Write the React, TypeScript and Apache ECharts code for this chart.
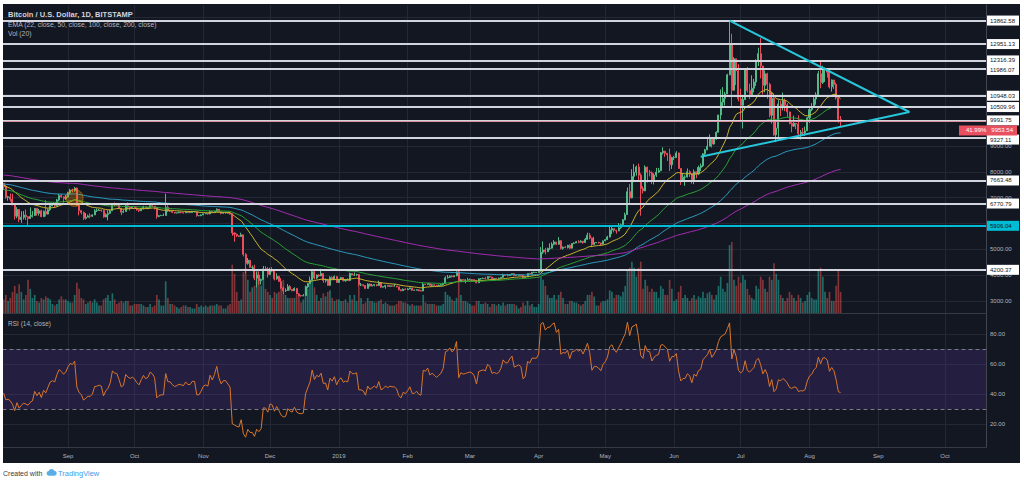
import React, { useEffect, useRef } from 'react';
import * as echarts from 'echarts';

// Each row: [high, low, close, volume (thousand BTC)]; the open of a day is the previous close.
type Row = [number, number, number, number];

const START_DATE = '2018-08-03';
const AXIS_DAYS = 443;
const FIRST_OPEN = 7560;

const AUG_2018: Row[] = [
  [7560, 7300, 7420, 9], [7490, 6950, 7010, 12], [7070, 6880, 7030, 8], [7160, 6840, 6940, 10], [7150, 6700, 6720, 14],
  [6720, 6150, 6280, 18], [6630, 6200, 6540, 13], [6560, 6050, 6150, 19], [6470, 6020, 6240, 14], [6480, 6150, 6320, 9],
  [6540, 6130, 6260, 12], [6250, 5880, 6190, 22], [6620, 6170, 6270, 16], [6480, 6230, 6310, 10], [6600, 6290, 6580, 12],
  [6600, 6300, 6390, 8], [6560, 6300, 6490, 7], [6530, 6250, 6260, 10], [6500, 6260, 6470, 9], [6900, 6270, 6360, 11],
  [6580, 6350, 6530, 10], [6720, 6480, 6690, 9], [6790, 6660, 6730, 6], [6760, 6610, 6690, 5], [6950, 6660, 6910, 6],
  [7140, 6870, 7080, 9], [7140, 6990, 7030, 11], [7050, 6800, 6960, 9], [7100, 6900, 7020, 9],
];
const SEP_2018: Row[] = [
  [7230, 7000, 7180, 8], [7340, 7120, 7290, 7], [7340, 7200, 7270, 7], [7410, 7230, 7370, 12], [7390, 6690, 6700, 20],
  [6720, 6310, 6500, 16], [6500, 6350, 6420, 10], [6460, 6130, 6200, 9], [6400, 6150, 6240, 6], [6340, 6240, 6290, 7],
  [6390, 6200, 6280, 8], [6350, 6250, 6330, 7], [6550, 6320, 6490, 9], [6580, 6440, 6500, 7], [6560, 6490, 6520, 5],
  [6530, 6450, 6500, 5], [6540, 6220, 6250, 9], [6390, 6240, 6340, 10], [6510, 6120, 6390, 12], [6530, 6370, 6490, 8],
  [6780, 6490, 6760, 13], [6810, 6660, 6720, 9], [6770, 6680, 6710, 6], [6720, 6570, 6590, 7], [6590, 6320, 6430, 8],
  [6540, 6400, 6460, 7], [6730, 6450, 6680, 8], [6810, 6540, 6630, 8], [6640, 6500, 6600, 5], [6660, 6580, 6630, 5],
];
const OCT_2018: Row[] = [
  [6650, 6560, 6590, 6], [6620, 6490, 6530, 6], [6530, 6440, 6490, 6], [6600, 6480, 6570, 6], [6680, 6540, 6640, 5],
  [6640, 6570, 6590, 4], [6620, 6550, 6610, 4], [6700, 6590, 6690, 6], [6690, 6630, 6670, 4], [6670, 6540, 6620, 5],
  [6620, 6180, 6270, 12], [6320, 6240, 6300, 9], [6330, 6290, 6310, 5], [6380, 6290, 6310, 5], [7150, 6300, 6620, 21],
  [6700, 6440, 6480, 10], [6500, 6450, 6480, 6], [6520, 6400, 6430, 6], [6440, 6380, 6400, 5], [6420, 6390, 6410, 4],
  [6460, 6400, 6430, 3], [6450, 6390, 6420, 4], [6430, 6380, 6410, 5], [6480, 6400, 6450, 5], [6450, 6400, 6420, 4],
  [6450, 6400, 6420, 4], [6460, 6410, 6450, 3], [6460, 6430, 6450, 3], [6460, 6260, 6300, 6], [6310, 6280, 6300, 4],
  [6350, 6280, 6330, 5],
];
const NOV_2018: Row[] = [
  [6380, 6320, 6370, 4], [6400, 6360, 6380, 5], [6380, 6340, 6370, 4], [6500, 6350, 6460, 5], [6470, 6400, 6420, 5],
  [6480, 6400, 6470, 5], [6580, 6450, 6550, 6], [6550, 6420, 6450, 5], [6450, 6350, 6390, 5], [6430, 6380, 6420, 3],
  [6430, 6370, 6420, 3], [6450, 6370, 6390, 5], [6400, 6340, 6360, 6], [6390, 5520, 5630, 32], [5650, 5290, 5580, 26],
  [5600, 5470, 5520, 14], [5530, 5470, 5490, 8], [5640, 5490, 5560, 9], [5560, 4720, 4800, 27], [4850, 4060, 4450, 30],
  [4660, 4400, 4570, 22], [4590, 4280, 4300, 14], [4370, 4150, 4300, 17], [4400, 3800, 3880, 18], [4120, 3520, 4000, 28],
  [4140, 3620, 3780, 24], [3860, 3630, 3830, 18], [4350, 3820, 4240, 24], [4340, 4150, 4230, 16], [4300, 3900, 4020, 14],
];
const DEC_2018: Row[] = [
  [4280, 4010, 4200, 12], [4310, 4110, 4150, 10], [4150, 3790, 3850, 14], [4060, 3820, 3950, 13], [3960, 3750, 3750, 14],
  [3880, 3470, 3500, 18], [3550, 3260, 3390, 22], [3480, 3340, 3400, 12], [3650, 3400, 3550, 10], [3610, 3400, 3440, 10],
  [3460, 3370, 3390, 10], [3520, 3380, 3480, 10], [3490, 3250, 3270, 12], [3290, 3180, 3200, 12], [3230, 3160, 3190, 7],
  [3260, 3180, 3200, 9], [3590, 3200, 3540, 18], [3680, 3480, 3670, 16], [3940, 3670, 3800, 22], [4200, 3800, 4130, 24],
  [4200, 3830, 3880, 17], [4020, 3840, 4000, 12], [4030, 3930, 3960, 8], [4240, 3960, 4060, 10], [4050, 3700, 3790, 13],
  [3860, 3710, 3800, 11], [3850, 3580, 3600, 14], [3950, 3580, 3900, 15], [3950, 3800, 3820, 10], [3980, 3800, 3940, 8],
  [3960, 3690, 3710, 9],
];
const JAN_2019: Row[] = [
  [3850, 3690, 3840, 9], [3920, 3810, 3900, 8], [3890, 3750, 3780, 8], [3830, 3740, 3810, 9], [3870, 3780, 3790, 7],
  [4090, 3760, 4060, 12], [4070, 3990, 4000, 9], [4100, 3960, 4000, 12], [4050, 3980, 4020, 8], [4040, 3570, 3620, 18],
  [3690, 3570, 3620, 10], [3630, 3560, 3590, 6], [3610, 3460, 3480, 7], [3680, 3480, 3650, 10], [3680, 3550, 3570, 8],
  [3660, 3570, 3600, 8], [3650, 3560, 3630, 7], [3630, 3560, 3590, 7], [3780, 3590, 3700, 8], [3730, 3500, 3530, 9],
  [3570, 3520, 3550, 6], [3620, 3470, 3590, 7], [3620, 3550, 3560, 6], [3600, 3550, 3580, 5], [3590, 3540, 3570, 5],
  [3660, 3560, 3570, 5], [3580, 3520, 3540, 6], [3540, 3400, 3430, 8], [3440, 3370, 3390, 8], [3480, 3390, 3450, 7],
  [3480, 3420, 3430, 7],
];
const FEB_2019: Row[] = [
  [3490, 3420, 3460, 6], [3510, 3450, 3500, 5], [3500, 3390, 3410, 6], [3430, 3390, 3410, 5], [3440, 3400, 3430, 5],
  [3440, 3370, 3390, 5], [3410, 3370, 3380, 5], [3720, 3370, 3640, 12], [3660, 3610, 3630, 7], [3680, 3610, 3670, 6],
  [3670, 3580, 3600, 6], [3640, 3560, 3620, 6], [3650, 3580, 3600, 6], [3620, 3560, 3580, 5], [3630, 3580, 3600, 5],
  [3650, 3600, 3620, 5], [3700, 3600, 3670, 6], [3950, 3660, 3890, 14], [4000, 3860, 3910, 12], [3980, 3880, 3960, 11],
  [3990, 3910, 3930, 9], [3990, 3920, 3970, 8], [4140, 3950, 4120, 10], [4200, 3720, 3740, 20], [3850, 3740, 3820, 12],
  [3830, 3780, 3800, 8], [3830, 3680, 3810, 8], [3890, 3790, 3820, 7],
];
const MAR_2019: Row[] = [
  [3860, 3810, 3830, 6], [3840, 3790, 3820, 5], [3830, 3770, 3790, 5], [3810, 3680, 3700, 8], [3880, 3700, 3850, 8],
  [3880, 3820, 3860, 6], [3900, 3840, 3870, 6], [3930, 3830, 3860, 7], [3960, 3860, 3940, 6], [3940, 3890, 3920, 4],
  [3930, 3840, 3860, 6], [3880, 3820, 3870, 6], [3880, 3840, 3860, 5], [3900, 3820, 3870, 6], [3920, 3860, 3910, 5],
  [4050, 3900, 4000, 7], [4000, 3960, 3980, 5], [4040, 3950, 3980, 6], [4040, 3970, 4020, 6], [4060, 3990, 4050, 6],
  [4070, 3950, 3980, 6], [4010, 3970, 3990, 5], [4010, 3980, 4000, 3], [4000, 3970, 3990, 4], [4000, 3870, 3910, 7],
  [3950, 3900, 3930, 5], [4070, 3920, 4060, 8], [4060, 4020, 4050, 5], [4120, 4040, 4100, 6], [4130, 4080, 4100, 4],
  [4110, 4080, 4100, 4],
];
const APR_2019: Row[] = [
  [4170, 4090, 4140, 6], [5080, 4140, 4880, 24], [5300, 4810, 4970, 22], [5050, 4800, 4900, 18], [5060, 4890, 5030, 12],
  [5230, 4970, 5040, 10], [5270, 5030, 5190, 10], [5350, 5150, 5280, 12], [5280, 5160, 5190, 9], [5470, 5170, 5330, 12],
  [5340, 4990, 5030, 14], [5100, 4980, 5080, 10], [5120, 5050, 5070, 6], [5170, 5030, 5150, 6], [5190, 5000, 5040, 8],
  [5240, 5030, 5220, 8], [5270, 5210, 5240, 7], [5320, 5240, 5290, 7], [5350, 5230, 5270, 6], [5350, 5260, 5310, 5],
  [5320, 5210, 5260, 6], [5440, 5250, 5380, 8], [5640, 5380, 5540, 12], [5630, 5380, 5430, 12], [5450, 5080, 5180, 14],
  [5480, 5180, 5260, 11], [5280, 5230, 5260, 5], [5290, 5220, 5240, 5], [5250, 5140, 5200, 7], [5340, 5190, 5320, 8],
];
const MAY_2019: Row[] = [
  [5380, 5320, 5370, 8], [5520, 5360, 5470, 9], [5880, 5460, 5740, 15], [5890, 5580, 5800, 14], [5800, 5650, 5740, 10],
  [5750, 5600, 5710, 12], [6010, 5700, 5830, 12], [5990, 5790, 5950, 11], [6170, 5950, 6140, 14], [6420, 6120, 6340, 18],
  [7390, 6340, 7230, 28], [7530, 6780, 6990, 30], [8100, 6970, 7820, 34], [8300, 7600, 7980, 30], [8240, 7850, 8190, 24],
  [8320, 7650, 7870, 30], [7940, 6300, 7350, 34], [7440, 7160, 7260, 16], [8250, 7270, 8180, 22], [8200, 7580, 7980, 18],
  [8070, 7820, 7960, 14], [8020, 7530, 7630, 16], [7940, 7510, 7870, 14], [8150, 7800, 7990, 14], [8150, 7950, 8050, 10],
  [8770, 8020, 8740, 18], [8950, 8670, 8800, 16], [8810, 8580, 8720, 12], [8710, 8420, 8660, 12], [8900, 8030, 8270, 22],
  [8580, 8110, 8550, 16],
];
const JUN_2019: Row[] = [
  [8620, 8460, 8550, 8], [8800, 8540, 8730, 9], [8740, 8110, 8130, 14], [8140, 7490, 7680, 18], [7910, 7600, 7790, 10],
  [7860, 7460, 7800, 12], [8130, 7780, 8000, 10], [8060, 7800, 7930, 8], [7940, 7540, 7640, 10], [8090, 7520, 8000, 12],
  [8010, 7750, 7920, 9], [8240, 7870, 8170, 11], [8320, 8030, 8230, 10], [8720, 8180, 8700, 14], [8890, 8600, 8850, 10],
  [9360, 8870, 8990, 13], [9450, 8990, 9320, 14], [9320, 8940, 9080, 12], [9300, 9050, 9270, 9], [9570, 9240, 9530, 12],
  [10210, 9530, 10200, 18], [11190, 10020, 10700, 24], [11280, 10550, 10850, 16], [11100, 10570, 11020, 14], [11800, 11010, 11760, 20],
  [13880, 11740, 12930, 45], [13350, 10510, 11160, 47], [12440, 11150, 12380, 22], [12380, 11360, 11910, 18], [12170, 10730, 10820, 24],
];
const JUL_2019: Row[] = [
  [11220, 9980, 10580, 20], [10900, 9680, 10800, 25], [12000, 10800, 11980, 22], [12060, 11070, 11150, 16], [11420, 10820, 10990, 12],
  [11740, 10990, 11240, 10], [11600, 11080, 11480, 9], [12360, 11330, 12300, 18], [12810, 12100, 12580, 16], [13180, 11620, 12100, 24],
  [12100, 11000, 11350, 22], [11930, 11080, 11800, 16], [11840, 10830, 11390, 14], [11450, 10110, 10190, 24], [11090, 9870, 10850, 22],
  [11040, 9400, 9430, 33], [9990, 9150, 9690, 26], [10780, 9300, 10630, 22], [10750, 10160, 10530, 12], [11070, 10380, 10760, 10],
  [10840, 10350, 10590, 8], [10660, 10100, 10320, 10], [10330, 9840, 9870, 14], [9920, 9530, 9770, 12], [10180, 9740, 9880, 10],
  [9880, 9650, 9850, 8], [10190, 9380, 9480, 12], [9620, 9250, 9530, 10], [9700, 9400, 9510, 7], [9750, 9400, 9590, 8],
  [10120, 9580, 10090, 12],
];
const AUG_2019: Row[] = [
  [10490, 9890, 10410, 14], [10660, 10350, 10530, 10], [10920, 10520, 10820, 9], [11080, 10600, 10980, 9], [11910, 10980, 11800, 28],
  [12320, 11240, 11460, 30], [12110, 11400, 11960, 24], [12050, 11480, 11980, 14], [11990, 11650, 11860, 10], [11960, 11230, 11290, 14],
  [11580, 11110, 11560, 8], [11540, 11210, 11390, 8], [11460, 10800, 10870, 18], [10890, 9900, 10030, 28], [10160, 9750, 9953.54, 14],
];

const MONTHS: Row[][] = [
  AUG_2018, SEP_2018, OCT_2018, NOV_2018, DEC_2018, JAN_2019, FEB_2019,
  MAR_2019, APR_2019, MAY_2019, JUN_2019, JUL_2019, AUG_2019,
];

const LEVELS = [13862.58, 12951.13, 12316.39, 11986.07, 10948.03, 10509.96, 9991.75, 9327.11, 7663.48, 6770.79, 4200.37];
const CYAN_LEVEL = 5906.04;
const LAST_PRICE = 9953.54;
const LAST_CHANGE = '41.99%';

const EMA_PERIODS = [22, 50, 100, 200];
const EMA_SEEDS = [7480, 7300, 7530, 7880];
const RSI_PERIOD = 14;
const RSI_SEED_GAIN = 110;
const RSI_SEED_LOSS = 150;

const TRIANGLE_UPPER: [string, number][] = [['2019-06-26', 13862.58], ['2019-09-15', 10318]];
const TRIANGLE_LOWER: [string, number][] = [['2019-06-13', 8580], ['2019-09-15', 10318]];
const CIRCLE_MARK: [string, number] = ['2018-09-04', 6985];

const MONTH_NAMES = ['Jan', 'Feb', 'Mar', 'Apr', 'May', 'Jun', 'Jul', 'Aug', 'Sep', 'Oct', 'Nov', 'Dec'];

const FONT = '"Liberation Sans", Arial, sans-serif';
const EMA_COLORS = ['#c8b52c', '#2aa235', '#2b9cc0', '#a62db4'];
const UP = '#53b987';
const DOWN = '#eb4d5c';

function buildDates(): string[] {
  const [y, m, d] = START_DATE.split('-').map(Number);
  const t0 = Date.UTC(y, m - 1, d);
  const out: string[] = [];
  for (let i = 0; i < AXIS_DAYS; i++) out.push(new Date(t0 + i * 86400000).toISOString().slice(0, 10));
  return out;
}

function ema(values: number[], period: number, seed: number): number[] {
  const k = 2 / (period + 1);
  let prev = seed;
  return values.map((v) => (prev = v * k + prev * (1 - k)));
}

function rsi(values: number[], firstPrev: number): number[] {
  let ag = RSI_SEED_GAIN;
  let al = RSI_SEED_LOSS;
  let prev = firstPrev;
  return values.map((c) => {
    const ch = c - prev;
    prev = c;
    ag = (ag * (RSI_PERIOD - 1) + Math.max(ch, 0)) / RSI_PERIOD;
    al = (al * (RSI_PERIOD - 1) + Math.max(-ch, 0)) / RSI_PERIOD;
    return al === 0 ? 100 : 100 - 100 / (1 + ag / al);
  });
}

const isMonthStart = (_i: number, v: string) => v.slice(8) === '01';
const monthLabel = (v: string) => {
  const m = Number(v.slice(5, 7));
  if (m === 1) return v.slice(0, 4);
  return MONTH_NAMES[m - 1];
};

function buildOption() {
  const dates = buildDates();
  const rows = MONTHS.flat();
  const closes = rows.map((r) => r[2]);
  const opens = closes.map((c, i) => (i === 0 ? FIRST_OPEN : closes[i - 1]));
  const candles = rows.map((r, i) => {
    const o = opens[i];
    const c = r[2];
    return [o, c, Math.min(r[1], o, c), Math.max(r[0], o, c)];
  });
  const volumes = rows.map((r, i) => ({
    value: r[3],
    itemStyle: { color: closes[i] >= opens[i] ? 'rgba(38,166,154,0.6)' : 'rgba(239,83,80,0.5)' },
  }));
  const emas = EMA_PERIODS.map((p, i) => ema(closes, p, EMA_SEEDS[i]));
  const rsiValues = rsi(closes, FIRST_OPEN);

  const GL = 2.5;
  const GR = 38;
  const labelBase = {
    show: true,
    position: 'end',
    distance: 1,
    fontSize: 6,
    fontFamily: FONT,
    padding: [2, 3, 2, 3],
    width: 26,
  };
  const levelShift: Record<string, number> = { '11986.07': 1, '9327.11': 2 };
  const levelLines: any[] = LEVELS.map((v) => ({
    yAxis: v,
    lineStyle: { color: '#d1d4dc', width: 2, type: 'solid' },
    label: {
      ...labelBase,
      formatter: v.toFixed(2),
      backgroundColor: '#ffffff',
      color: '#131722',
      offset: [0, levelShift[v.toFixed(2)] || 0],
    },
  }));
  levelLines.push({
    yAxis: CYAN_LEVEL,
    lineStyle: { color: '#00bcd4', width: 2, type: 'solid' },
    label: { ...labelBase, formatter: CYAN_LEVEL.toFixed(2), backgroundColor: '#00bcd4', color: '#131722' },
  });
  levelLines.push({
    yAxis: LAST_PRICE,
    lineStyle: { color: '#eb4d5c', width: 1, type: 'dotted' },
    label: {
      show: true,
      position: 'end',
      distance: 1,
      fontSize: 6,
      fontFamily: FONT,
      formatter: LAST_CHANGE + '   ' + LAST_PRICE.toFixed(2),
      backgroundColor: '#e8505f',
      color: '#ffffff',
      padding: [2, 4, 2, 7],
      offset: [-28, 9],
    },
  });

  const hiddenCat = (gridIndex: number) => ({
    gridIndex,
    type: 'category',
    data: dates,
    boundaryGap: true,
    show: false,
  });

  return {
    animation: false,
    backgroundColor: '#131722',
    textStyle: { fontFamily: FONT },
    grid: [
      { left: GL, right: GR, top: 5, height: 442 },
      { left: GL, right: GR, top: 17, height: 283.8 },
      { left: GL, right: GR, top: 230, height: 83 },
      { left: GL, right: GR, top: 304, height: 150 },
    ],
    xAxis: [
      {
        gridIndex: 0,
        type: 'category',
        data: dates,
        boundaryGap: true,
        axisLine: { show: true, lineStyle: { color: '#363a45' } },
        axisTick: { show: false },
        axisLabel: { interval: isMonthStart, formatter: monthLabel, color: '#b2b5be', fontSize: 6, margin: 6 },
        splitLine: { show: true, interval: isMonthStart, alignWithLabel: true, lineStyle: { color: '#242834', width: 1 } },
      },
      hiddenCat(1),
      {
        gridIndex: 2,
        type: 'category',
        data: dates,
        boundaryGap: true,
        axisLine: { show: true, lineStyle: { color: '#363a45' } },
        axisTick: { show: false },
        axisLabel: { show: false },
        splitLine: { show: false },
      },
      hiddenCat(3),
    ],
    yAxis: [
      {
        gridIndex: 0,
        type: 'value',
        min: 0,
        max: 1,
        position: 'right',
        axisLine: { show: true, lineStyle: { color: '#434651' } },
        axisTick: { show: false },
        axisLabel: { show: false },
        splitLine: { show: false },
      },
      {
        gridIndex: 1,
        type: 'value',
        min: 3000,
        max: 14000,
        interval: 1000,
        position: 'right',
        axisLine: { show: false },
        axisTick: { show: false },
        axisLabel: {
          color: '#b2b5be',
          fontSize: 6,
          margin: 4,
          formatter: (v: number) => (v >= 10000 || v === 6000 ? '' : v.toFixed(2)),
        },
        splitLine: { show: true, lineStyle: { color: '#242834', width: 1 } },
      },
      { gridIndex: 2, type: 'value', min: 0, max: 55, show: false },
      {
        gridIndex: 3,
        type: 'value',
        min: 0,
        max: 100,
        interval: 20,
        position: 'right',
        axisLine: { show: false },
        axisTick: { show: false },
        axisLabel: {
          color: '#b2b5be',
          fontSize: 6,
          margin: 4,
          showMinLabel: false,
          showMaxLabel: false,
          formatter: (v: number) => (v <= 0 || v >= 100 ? '' : v.toFixed(2)),
        },
        splitLine: { show: true, showMinLine: false, showMaxLine: false, lineStyle: { color: '#242834', width: 1 } },
      },
    ],
    series: [
      {
        name: 'Volume',
        type: 'bar',
        xAxisIndex: 2,
        yAxisIndex: 2,
        data: volumes,
        barWidth: '75%',
        z: 1,
      },
      {
        name: 'BTCUSD',
        type: 'candlestick',
        xAxisIndex: 1,
        yAxisIndex: 1,
        data: candles,
        barWidth: '68%',
        itemStyle: { color: UP, color0: DOWN, borderColor: UP, borderColor0: DOWN, borderWidth: 1 },
        z: 2,
      },
      ...emas.map((vals, i) => ({
        name: 'EMA ' + EMA_PERIODS[i],
        type: 'line',
        xAxisIndex: 1,
        yAxisIndex: 1,
        data: vals,
        showSymbol: false,
        symbol: 'none',
        lineStyle: { color: EMA_COLORS[i], width: 1 },
        z: 3,
      })),
      {
        name: 'Levels',
        type: 'line',
        xAxisIndex: 1,
        yAxisIndex: 1,
        data: [],
        z: 4,
        markLine: { silent: true, symbol: ['none', 'none'], animation: false, data: levelLines },
      },
      {
        name: 'Triangle upper',
        type: 'line',
        xAxisIndex: 1,
        yAxisIndex: 1,
        data: TRIANGLE_UPPER,
        showSymbol: false,
        symbol: 'none',
        lineStyle: { color: '#27c6da', width: 2 },
        z: 5,
      },
      {
        name: 'Triangle lower',
        type: 'line',
        xAxisIndex: 1,
        yAxisIndex: 1,
        data: TRIANGLE_LOWER,
        showSymbol: false,
        symbol: 'none',
        lineStyle: { color: '#27c6da', width: 2 },
        z: 5,
      },
      {
        name: 'Mark',
        type: 'scatter',
        xAxisIndex: 1,
        yAxisIndex: 1,
        data: [CIRCLE_MARK],
        symbolSize: 17,
        itemStyle: { color: 'rgba(255,152,0,0.35)', borderColor: 'rgba(255,152,0,0.55)', borderWidth: 1 },
        z: 5,
      },
      {
        name: 'RSI',
        type: 'line',
        xAxisIndex: 3,
        yAxisIndex: 3,
        data: rsiValues,
        showSymbol: false,
        symbol: 'none',
        lineStyle: { color: '#d9772b', width: 1 },
        z: 3,
        markArea: {
          silent: true,
          itemStyle: { color: 'rgba(103,58,183,0.2)' },
          data: [[{ yAxis: 30 }, { yAxis: 70 }]],
        },
        markLine: {
          silent: true,
          symbol: ['none', 'none'],
          label: { show: false },
          lineStyle: { color: '#787b86', type: [4, 3], width: 1 },
          data: [{ yAxis: 70 }, { yAxis: 30 }],
        },
      },
    ],
    graphic: [
      { type: 'rect', shape: { x: 0, y: 0, width: 1024, height: 4 }, style: { fill: '#ffffff' }, z: 100 },
      { type: 'rect', shape: { x: 0, y: 0, width: 3, height: 481 }, style: { fill: '#ffffff' }, z: 100 },
      { type: 'rect', shape: { x: 1020, y: 0, width: 4, height: 481 }, style: { fill: '#ffffff' }, z: 100 },
      { type: 'rect', shape: { x: 0, y: 463, width: 1024, height: 18 }, style: { fill: '#ffffff' }, z: 100 },
      {
        type: 'text', x: 8, y: 14, z: 50,
        style: { text: 'Bitcoin / U.S. Dollar, 1D, BITSTAMP', fill: '#d1d4dc', fontSize: 7.5, fontWeight: 'bold', fontFamily: FONT, verticalAlign: 'middle' },
      },
      {
        type: 'text', x: 8, y: 24.5, z: 50,
        style: { text: 'EMA (22, close, 50, close, 100, close, 200, close)', fill: '#b2b5be', fontSize: 6.8, fontFamily: FONT, verticalAlign: 'middle' },
      },
      {
        type: 'text', x: 8, y: 33, z: 50,
        style: { text: 'Vol (20)', fill: '#b2b5be', fontSize: 6.8, fontFamily: FONT, verticalAlign: 'middle' },
      },
      {
        type: 'text', x: 8, y: 323, z: 50,
        style: { text: 'RSI (14, close)', fill: '#b2b5be', fontSize: 6.5, fontFamily: FONT, verticalAlign: 'middle' },
      },
      {
        type: 'text', x: 3, y: 473, z: 101,
        style: { text: 'Created with', fill: '#3a3a3a', fontSize: 7, fontFamily: FONT, verticalAlign: 'middle' },
      },
      {
        type: 'tvcloud', x: 46, y: 469, scaleX: 0.48, scaleY: 0.48, z: 101,
        style: { fill: '#5aaee6' },
      },
      {
        type: 'text', x: 58, y: 473, z: 101,
        style: { text: 'TradingView', fill: '#3d9be9', fontSize: 7.5, fontFamily: FONT, verticalAlign: 'middle' },
      },
    ],
  };
}

let shapeRegistered = false;
function registerShapes() {
  if (shapeRegistered) return;
  const d = 'M5 14 A5 5 0 0 1 5.5 4.2 A6.5 6.5 0 0 1 17.5 3.5 A5.3 5.3 0 0 1 18 14 Z';
  echarts.graphic.registerShape('tvcloud', echarts.graphic.extendPath(d, {}) as any);
  shapeRegistered = true;
}

export default function App() {
  const ref = useRef<HTMLDivElement>(null);
  useEffect(() => {
    if (!ref.current) return;
    registerShapes();
    const chart = echarts.init(ref.current, undefined, { renderer: 'svg' });
    chart.setOption(buildOption() as any);
    return () => chart.dispose();
  }, []);
  return (
    <div
      ref={ref}
      style={{ position: 'fixed', left: 0, top: 0, width: 1024, height: 481, background: '#ffffff' }}
    />
  );
}
